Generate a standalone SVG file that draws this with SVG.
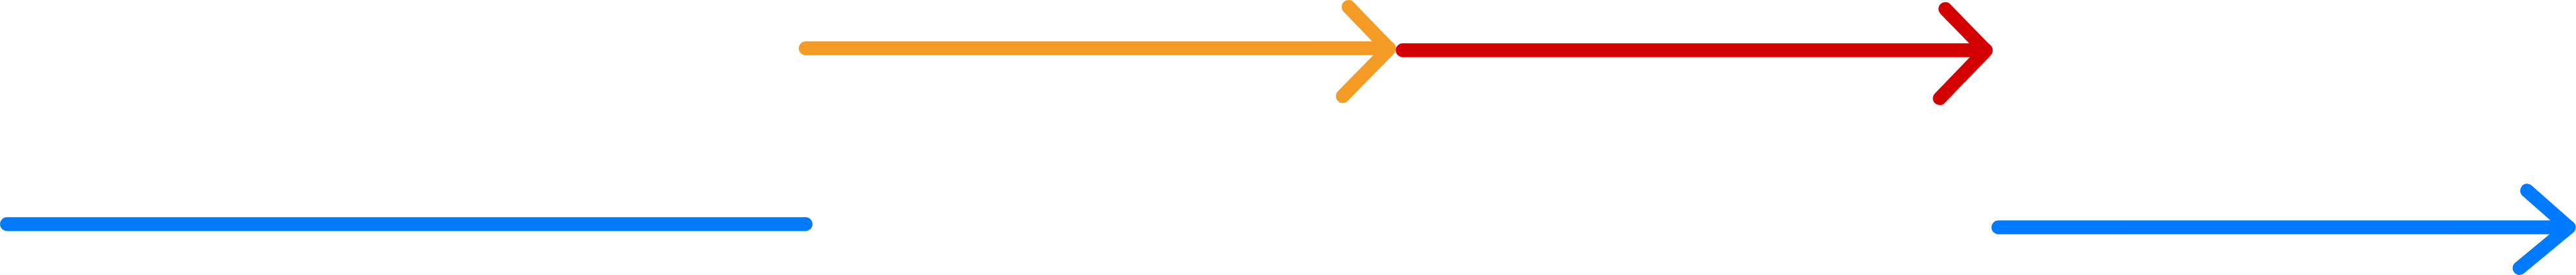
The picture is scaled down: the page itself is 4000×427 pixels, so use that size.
<svg xmlns="http://www.w3.org/2000/svg" width="4000" height="427" viewBox="0 0 4000 427">
<style>
.c{fill:none;stroke-width:21.3;stroke-linecap:round;stroke-linejoin:round}
.o{stroke:#F49B25}
.r{stroke:#D20000}
.b{stroke:#007AFF}
</style>
<rect width="4000" height="427" fill="#FFFFFF"/>
<g id="connectors">
<path id="blue-left" class="c b" d="M10.7 348 L1251 348"/>
<g id="orange-arrow">
<path class="c o" d="M1251 75 L2157 75"/>
<path class="c o" d="M2094 10.7 L2157 76 L2085 149.3"/>
</g>
<g id="red-arrow">
<path class="c r" d="M2178 78 L3083.5 78"/>
<path class="c r" d="M3020.7 14 L3083.5 78.5 L3012 152.7"/>
</g>
<g id="blue-right-arrow">
<path class="c b" d="M3103 353 L3988.7 353"/>
<path class="c b" d="M3924 296 L3988.7 353 L3912.3 416.3"/>
</g>
</g>
</svg>
